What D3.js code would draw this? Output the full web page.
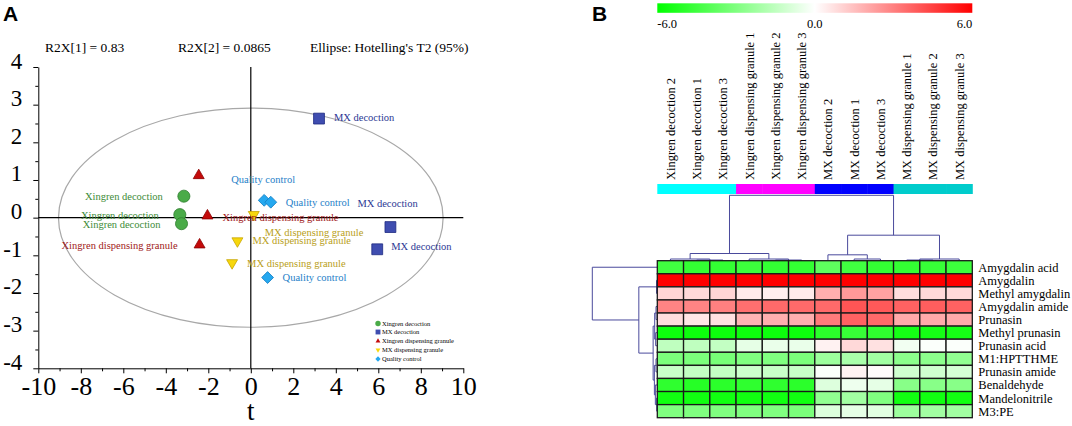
<!DOCTYPE html>
<html>
<head>
    <meta charset="utf-8">
    <title>PCA score plot and heatmap</title>
    <script src="https://d3js.org/d3.v7.min.js"></script>
    <style>
        body { margin: 0; background: #fff; }
        svg { display: block; }
        text { font-family: "Liberation Serif", "Times New Roman", serif; }
        .panel-tag { font-family: "Liberation Sans", Arial, sans-serif; font-weight: bold; font-size: 21px; }
        .axis path, .axis line { stroke: #000; stroke-width: 1; }
        .dendro { fill: none; stroke: #4a4a9c; stroke-width: 1; }
    </style>
</head>
<body>
    <svg></svg>
    <script>
        // ---- panel A : PCA scores (t[1], t[2]) ----
        const groupNames = ["Xingren decoction", "MX decoction", "Xingren dispensing granule", "MX dispensing granule", "Quality control"];
        const xingrenDecoction = [[-3.15, 0.57], [-3.34, 0.08], [-3.26, -0.16]];
        const mxDecoction = [[3.21, 2.63], [6.57, -0.25], [5.95, -0.84]];
        const xingrenGranule = [[-2.45, 1.12], [-2.04, 0.05], [-2.41, -0.72]];
        const mxGranule = [[0.14, 0.08], [-0.63, -0.62], [-0.88, -1.2]];
        const qualityControl = [[0.63, 0.46], [0.94, 0.41], [0.79, -1.59]];
        const r2x = ["R2X[1] = 0.83", "R2X[2] = 0.0865", "Ellipse: Hotelling's T2 (95%)"];
        const t2Ellipse = { rx: 9.05, ry: 2.91 };
        const xTicks = d3.range(-10, 11, 2);
        const yTicks = d3.range(-4, 5, 1);

        // ---- panel B : heatmap ----
        const samples = ["Xingren decoction 2", "Xingren decoction 1", "Xingren decoction 3",
            "Xingren dispensing granule 1", "Xingren dispensing granule 2", "Xingren dispensing granule 3",
            "MX decoction 2", "MX decoction 1", "MX decoction 3",
            "MX dispensing granule 1", "MX dispensing granule 2", "MX dispensing granule 3"];
        const sampleGroup = [0, 0, 0, 1, 1, 1, 2, 2, 2, 3, 3, 3];
        const compounds = ["Amygdalin acid", "Amygdalin", "Methyl amygdalin", "Amygdalin amide", "Prunasin",
            "Methyl prunasin", "Prunasin acid", "M1:HPTTHME", "Prunasin amide", "Benaldehyde", "Mandelonitrile", "M3:PE"];
        const values = [
            [-4.5, -4.8, -4.8, -4.6, -4.8, -4.8, -3.8, -4.5, -4.8, -4.8, -4.7, -4.6],
            [6.0, 6.0, 6.0, 6.0, 6.0, 6.0, 6.0, 6.0, 6.0, 6.0, 6.0, 6.0],
            [1.0, 0.9, 1.0, 0.5, 0.4, 0.5, 1.9, 2.4, 2.2, 0.8, 0.9, 0.9],
            [2.9, 2.9, 3.0, 3.4, 3.5, 3.5, 3.5, 4.0, 3.9, 3.7, 3.8, 3.7],
            [0.8, 0.6, 0.7, 1.8, 1.9, 1.9, 3.1, 3.7, 3.5, 2.0, 2.0, 2.0],
            [-5.7, -5.7, -5.7, -5.7, -5.7, -5.7, -5.0, -4.7, -4.9, -5.5, -5.5, -5.5],
            [-1.5, -1.5, -1.4, -0.6, -0.5, -0.5, 0.3, 0.9, 0.7, -0.3, -0.1, -0.1],
            [-3.1, -3.1, -3.2, -3.0, -3.0, -3.1, -2.3, -2.0, -2.2, -2.7, -2.7, -2.6],
            [-1.3, -1.4, -1.4, -1.2, -1.3, -1.3, -0.1, 0.3, 0.1, -1.1, -1.1, -1.0],
            [-4.9, -5.1, -5.0, -4.9, -4.9, -5.0, -0.8, -0.4, -0.6, -2.8, -2.8, -2.8],
            [-5.6, -5.6, -5.6, -5.6, -5.6, -5.6, -2.6, -2.2, -3.0, -5.6, -5.6, -5.6],
            [-3.0, -3.0, -3.0, -3.0, -3.0, -3.1, -0.8, -0.6, -0.7, -2.3, -2.2, -2.2]
        ];
        const colorTicks = [-6, 0, 6];
        // dendrograms: leaf = index, node = {h, c:[left,right]}
        const colTree = { h: 10, c: [
            { h: 1.1, c: [{ h: 0.26, c: [0, { h: 0.1, c: [1, 2] }] }, { h: 0.26, c: [3, { h: 0.1, c: [4, 5] }] }] },
            { h: 3.9, c: [{ h: 0.9, c: [6, { h: 0.26, c: [7, 8] }] }, { h: 0.26, c: [{ h: 0.1, c: [9, 10] }, 11] }] }
        ] };
        const rowTree = { h: 10, c: [0, { h: 2.84, c: [
            { h: 0.12, c: [1, 2] },
            { h: 0.64, c: [
                { h: 0.4, c: [{ h: 0.2, c: [3, 4] }, { h: 0.25, c: [5, 6] }] },
                { h: 0.45, c: [{ h: 0.2, c: [7, 8] }, { h: 0.3, c: [9, { h: 0.1, c: [10, 11] }] }] }
            ] }
        ] }] };

        const width = 1072, height = 426;
        const svg = d3.select("svg").attr("width", width).attr("height", height);

        // ================= Panel A =================
        const x = d3.scaleLinear().domain([-10, 10]).range([38.3, 463.3]);
        const y = d3.scaleLinear().domain([-4, 4]).range([368.3, 67]);
        const plain = d => String(d);   // hyphen-minus like the original

        svg.append("text").attr("class", "panel-tag").attr("x", 3).attr("y", 21).text("A");

        // header texts
        svg.selectAll(".r2x").data(r2x).join("text")
            .attr("class", "r2x")
            .attr("x", (d, i) => [45, 178, 310][i])
            .attr("y", 52)
            .attr("font-size", 13.5)
            .text(d => d);

        // Hotelling ellipse
        svg.append("ellipse")
            .attr("cx", x(0)).attr("cy", y(0))
            .attr("rx", x(t2Ellipse.rx) - x(0))
            .attr("ry", y(0) - y(t2Ellipse.ry))
            .attr("fill", "none").attr("stroke", "#a8a8a8").attr("stroke-width", 1.2);

        // zero lines
        svg.append("line").attr("x1", x(0)).attr("x2", x(0)).attr("y1", y(4)).attr("y2", y(-4))
            .attr("stroke", "#000").attr("stroke-width", 1.2);
        svg.append("line").attr("x1", x(-10)).attr("x2", x(10)).attr("y1", y(0)).attr("y2", y(0))
            .attr("stroke", "#000").attr("stroke-width", 1.2);

        // axes
        const yAxis = svg.append("g").attr("class", "axis").attr("transform", `translate(${x(-10)},0)`)
            .call(d3.axisLeft(y).tickValues(yTicks).tickSize(5).tickSizeOuter(0).tickFormat(plain));
        yAxis.selectAll("text").attr("font-size", 23).attr("x", -16).attr("dy", 1)
            .attr("font-family", "Liberation Serif");
        svg.append("g").attr("class", "axis").attr("transform", `translate(${x(-10)},0)`)
            .call(d3.axisLeft(y).tickValues(yTicks.slice(0, -1).map(v => v + 0.5)).tickSize(3).tickFormat(""))
            .select(".domain").remove();

        const xAxis = svg.append("g").attr("class", "axis").attr("transform", `translate(0,${y(-4)})`)
            .call(d3.axisBottom(x).tickValues(xTicks).tickSize(5).tickSizeOuter(0).tickFormat(plain));
        xAxis.selectAll("text").attr("font-size", 26).attr("y", 8).attr("dy", "0.71em")
            .attr("font-family", "Liberation Serif");
        svg.append("g").attr("class", "axis").attr("transform", `translate(0,${y(-4)})`)
            .call(d3.axisBottom(x).tickValues(xTicks.slice(0, -1).map(v => v + 1)).tickSize(3).tickFormat(""))
            .select(".domain").remove();

        svg.append("text").attr("x", x(0)).attr("y", 420).attr("text-anchor", "middle")
            .attr("font-size", 27).text("t");

        // group styles
        const styles = [
            { sym: d3.symbolCircle, size: 115, rot: 0, fill: "#4aab48", stroke: "#2e7d2e", text: "#3d8b37" },
            { sym: d3.symbolSquare, size: 118, rot: 0, fill: "#3f4db0", stroke: "#1d2a80", text: "#2b3894" },
            { sym: d3.symbolTriangle, size: 52, rot: 0, fill: "#c40a0a", stroke: "#8a0000", text: "#a01818" },
            { sym: d3.symbolTriangle, size: 52, rot: 180, fill: "#f7d70c", stroke: "#c8a400", text: "#b9a020" },
            { sym: d3.symbolSquare, size: 70, rot: 45, fill: "#25a8ef", stroke: "#1780c4", text: "#1e80c8" }
        ];
        const groupData = [xingrenDecoction, mxDecoction, xingrenGranule, mxGranule, qualityControl];
        // label offsets (px) for each point; null = no label
        const labelOffsets = [
            [[-21, 4, "end"], [-21, 4, "end"], [-21, 4, "end"]],
            [[15, 2, "start"], [-33, -20, "start"], [14, 1, "start"]],
            [null, [15, 5, "start"], [-22, 4, "end"]],
            [[11, 21, "start"], [15, 3, "start"], [15, 4, "start"]],
            [[-33, -17, "start"], [15, 4, "start"], [15, 3, "start"]]
        ];

        const points = groupData.flatMap((arr, g) => arr.map((p, i) => ({ g, t1: p[0], t2: p[1], lab: labelOffsets[g][i] })));

        svg.append("g").selectAll("path").data(points).join("path")
            .attr("d", d => d3.symbol().type(styles[d.g].sym).size(styles[d.g].size)())
            .attr("transform", d => `translate(${x(d.t1)},${y(d.t2)}) rotate(${styles[d.g].rot})`)
            .attr("fill", d => styles[d.g].fill)
            .attr("stroke", d => styles[d.g].stroke)
            .attr("stroke-width", 0.8);

        svg.append("g").selectAll("text").data(points.filter(d => d.lab)).join("text")
            .attr("x", d => x(d.t1) + d.lab[0])
            .attr("y", d => y(d.t2) + d.lab[1])
            .attr("text-anchor", d => d.lab[2])
            .attr("font-size", 10.5)
            .attr("fill", d => styles[d.g].text)
            .text(d => groupNames[d.g]);

        // legend
        const legendY = [323.5, 332, 341, 350, 359];
        const legend = svg.append("g").selectAll("g").data(groupNames).join("g")
            .attr("transform", (d, i) => `translate(378,${legendY[i]})`);
        legend.append("path")
            .attr("d", (d, i) => d3.symbol().type(styles[i].sym).size(styles[i].size * 0.2)())
            .attr("transform", (d, i) => `rotate(${styles[i].rot})`)
            .attr("fill", (d, i) => styles[i].fill);
        legend.append("text").attr("x", 4).attr("y", 2.2).attr("font-size", 6.5).text(d => d);

        // ================= Panel B =================
        svg.append("text").attr("class", "panel-tag").attr("x", 592).attr("y", 21).text("B");

        const hmLeft = 657.3, hmRight = 972.3, hmTop = 260.7, hmBottom = 417.7;
        const cx = d3.scaleBand().domain(d3.range(samples.length)).range([hmLeft, hmRight]);
        const cy = d3.scaleBand().domain(d3.range(compounds.length)).range([hmTop, hmBottom]);
        const color = d3.scaleLinear().domain([-6, 0, 6]).range(["#00ff00", "#ffffff", "#ff0000"]);

        // colour bar
        const cbar = d3.scaleLinear().domain([-6, 6]).range([hmLeft, hmRight]);
        const grad = svg.append("defs").append("linearGradient").attr("id", "cbar");
        grad.selectAll("stop").data(colorTicks).join("stop")
            .attr("offset", d => (cbar(d) - hmLeft) / (hmRight - hmLeft))
            .attr("stop-color", d => color(d));
        svg.append("rect").attr("x", hmLeft).attr("y", 3.3).attr("width", hmRight - hmLeft).attr("height", 9.5)
            .attr("fill", "url(#cbar)");
        svg.selectAll(".cbtick").data(colorTicks).join("text")
            .attr("class", "cbtick")
            .attr("x", d => cbar(d))
            .attr("y", 28)
            .attr("font-size", 12.5)
            .attr("text-anchor", (d, i) => ["start", "middle", "end"][i])
            .text(d => d.toFixed(1));

        // sample labels (rotated)
        svg.selectAll(".slab").data(samples).join("text")
            .attr("class", "slab")
            .attr("transform", (d, i) => `translate(${cx(i) + cx.bandwidth() / 2 + 4.5},180) rotate(-90)`)
            .attr("font-size", 12.5)
            .text(d => d);

        // group colour bar
        const groupColors = ["#00ffff", "#ff00ff", "#0000ff", "#00cccc"];
        svg.selectAll(".gbar").data(sampleGroup).join("rect")
            .attr("class", "gbar")
            .attr("x", (d, i) => cx(i)).attr("y", 184)
            .attr("width", cx.bandwidth() + 0.5).attr("height", 10)
            .attr("fill", d => groupColors[d]);

        // dendrograms
        function drawTree(node, pos, hScale, horizontal, g) {
            if (typeof node === "number") return { p: pos(node), h: 0 };
            const kids = node.c.map(k => drawTree(k, pos, hScale, horizontal, g));
            const p = (kids[0].p + kids[1].p) / 2;
            const H = hScale(node.h);
            const pts = [[kids[0].p, hScale(kids[0].h)], [kids[0].p, H], [kids[1].p, H], [kids[1].p, hScale(kids[1].h)]];
            g.append("path").attr("class", "dendro")
                .attr("d", d3.line()(horizontal ? pts : pts.map(q => [q[1], q[0]])));
            return { p, h: node.h };
        }
        const colH = d3.scaleLinear().domain([0, 10]).range([hmTop, 195.3]);
        drawTree(colTree, i => cx(i) + cx.bandwidth() / 2, colH, true, svg.append("g"));
        const rowH = d3.scaleLinear().domain([0, 10]).range([hmLeft, 592.3]);
        drawTree(rowTree, i => cy(i) + cy.bandwidth() / 2, rowH, false, svg.append("g"));

        // heatmap cells
        const cells = values.flatMap((row, r) => row.map((v, c) => ({ r, c, v })));
        svg.append("g").selectAll("rect").data(cells).join("rect")
            .attr("x", d => cx(d.c)).attr("y", d => cy(d.r))
            .attr("width", cx.bandwidth()).attr("height", cy.bandwidth())
            .attr("fill", d => color(d.v))
            .attr("stroke", "#1a1a1a").attr("stroke-width", 1.3);

        // compound labels
        svg.selectAll(".clab").data(compounds).join("text")
            .attr("class", "clab")
            .attr("x", hmRight + 6)
            .attr("y", (d, i) => cy(i) + cy.bandwidth() / 2 + 4.5)
            .attr("font-size", 12.5)
            .text(d => d);
    </script>
</body>
</html>
